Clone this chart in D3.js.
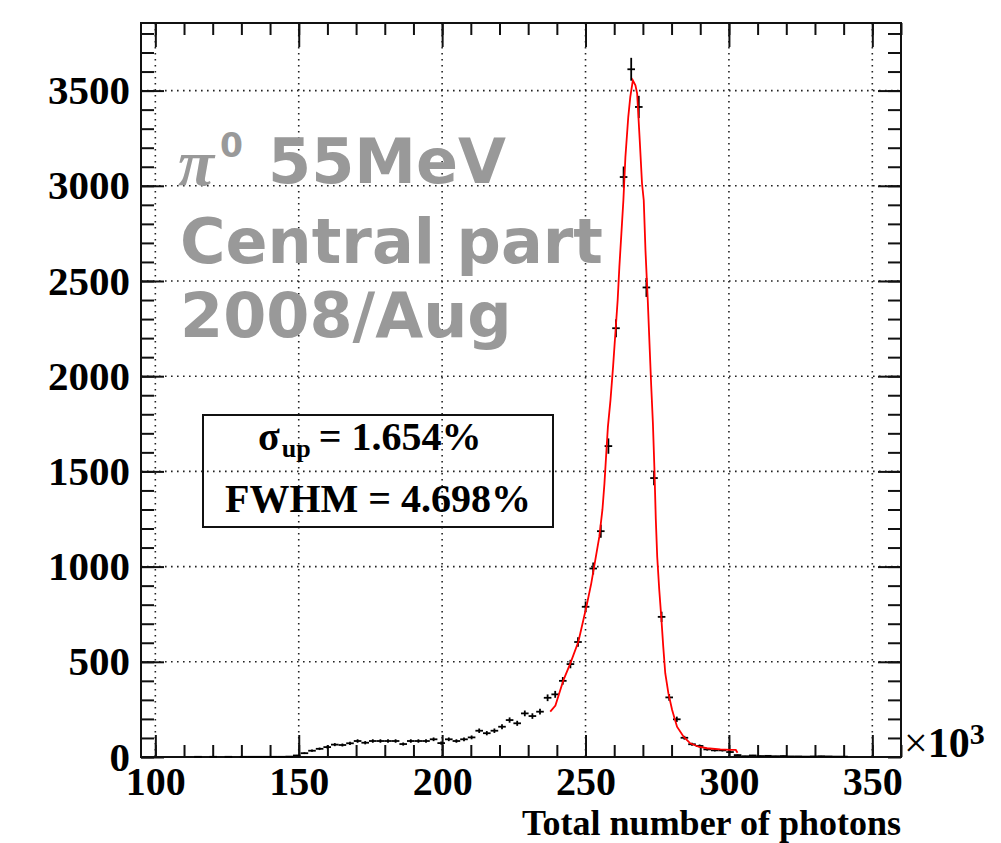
<!DOCTYPE html>
<html>
<head>
<meta charset="utf-8">
<script src="https://cdn.jsdelivr.net/npm/d3@7"></script>
<style>
  html, body { margin: 0; padding: 0; background: #fff; }
  svg { display: block; }
</style>
</head>
<body>
<svg id="chart" width="1001" height="843"></svg>
<script>
// ---- Data (x in units of 10^3 photons) ----
const xMin = 95, xMax = 360, nBins = 100;
const yMax = 3855;
const xMajorTicks = [100, 150, 200, 250, 300, 350];
const yMajorTicks = [500, 1000, 1500, 2000, 2500, 3000, 3500];
const yTickLabels = ["0", "500", "1000", "1500", "2000", "2500", "3000", "3500"];
const counts = [
  0, 0, 0, 0, 0, 0, 0, 1, 0, 1,
  0, 1, 0, 1, 1, 1, 1, 1, 1, 2,
  8, 20, 33, 43, 52, 65, 63, 72, 84, 75,
  84, 84, 84, 84, 68, 84, 84, 84, 93, 73,
  93, 84, 93, 103, 138, 125, 138, 159, 194, 177,
  229, 215, 238, 311, 329, 400, 488, 604, 789, 990,
  1186, 1633, 2252, 3046, 3612, 3414, 2466, 1465, 736, 313,
  198, 101, 67, 58, 40, 35, 35, 26, 10, 4,
  8, 5, 6, 4, 5, 3, 3, 2, 3, 4,
  3, 2, 2, 0, 0, 0, 0, 0, 0, 0
];
// Fit curve
const fitX = [237.7, 239.5, 242.3, 244.7, 247.5, 250.3, 252.0, 253.4, 254.8, 255.9,
  256.6, 257.3, 257.8, 258.7, 259.6, 260.4, 261.2, 261.8, 262.5, 263.2,
  263.9, 264.9, 265.6, 266.5, 267.4, 268.0, 268.9, 269.7, 270.3, 270.9,
  271.7, 272.4, 272.9, 273.5, 274.0, 274.5, 275.0, 275.7, 276.4, 277.1,
  277.8, 278.9, 280.2, 281.9, 284.2, 286.5, 289.4, 292.4, 297.0, 300.5,
  302.4, 303.0];
const fitY = [238, 270, 404, 492, 605, 789, 912, 1034, 1156, 1300,
  1437, 1612, 1734, 1874, 2049, 2224, 2399, 2574, 2749, 2924,
  3150, 3361, 3466, 3554, 3528, 3484, 3239, 3012, 2924, 2661,
  2399, 2136, 1950, 1750, 1524, 1250, 1050, 880, 737, 580,
  440, 334, 247, 159, 107, 72, 54, 46, 40, 37,
  37, 22];
const labelLines = ["Central part", "2008/Aug"];
const boxLines = ["= 1.654%", "FWHM = 4.698%"];

// ---- Layout ----
const L = 141, R = 901, T = 23, B = 757;
const svg = d3.select("#chart");
const x = d3.scaleLinear().domain([xMin, xMax]).range([L, R]);
const y = d3.scaleLinear().domain([0, yMax]).range([B, T]);
const serif = "'Liberation Serif', 'Times New Roman', serif";
const sans = "'DejaVu Sans', sans-serif";

const xMinor = d3.range(100, 361, 10);
const yMinor = d3.range(0, yMax, 100);

// Grid
const grid = svg.append("g").attr("stroke", "#222").attr("stroke-width", 1.6)
  .attr("stroke-dasharray", "1.6,4.4");
grid.selectAll(".gx").data(xMajorTicks).join("line")
  .attr("x1", d => x(d)).attr("x2", d => x(d)).attr("y1", T).attr("y2", B);
grid.selectAll(".gy").data(yMajorTicks).join("line")
  .attr("y1", d => y(d)).attr("y2", d => y(d)).attr("x1", L).attr("x2", R);

// Axes
function styleAxis(size) {
  return g => {
    g.select(".domain").remove();
    g.selectAll(".tick line").attr("stroke", "#111").attr("stroke-width", 2);
    g.selectAll("text").attr("font-family", serif).attr("font-weight", "bold")
      .attr("font-size", size).attr("fill", "#000");
  };
}
svg.append("g").attr("transform", `translate(0,${B})`)
  .call(d3.axisBottom(x).tickValues(xMinor).tickSize(-12).tickFormat(""))
  .call(styleAxis(41));
svg.append("g").attr("transform", `translate(0,${B})`)
  .call(d3.axisBottom(x).tickValues(xMajorTicks).tickSize(-22).tickSizeOuter(0).tickPadding(10).tickFormat(d3.format("d")))
  .call(styleAxis(40));
svg.append("g").attr("transform", `translate(0,${T})`)
  .call(d3.axisTop(x).tickValues(xMinor).tickSize(-12).tickFormat(""))
  .call(styleAxis(41));
svg.append("g").attr("transform", `translate(0,${T})`)
  .call(d3.axisTop(x).tickValues(xMajorTicks).tickSize(-24).tickFormat(""))
  .call(styleAxis(41));
svg.append("g").attr("transform", `translate(${L},0)`)
  .call(d3.axisLeft(y).tickValues(yMinor).tickSize(-13).tickFormat(""))
  .call(styleAxis(41));
svg.append("g").attr("transform", `translate(${L},0)`)
  .call(d3.axisLeft(y).tickValues([0].concat(yMajorTicks)).tickSize(-23).tickPadding(11)
    .tickFormat((d, i) => yTickLabels[i]))
  .call(styleAxis(41));
svg.append("g").attr("transform", `translate(${R},0)`)
  .call(d3.axisRight(y).tickValues(yMinor).tickSize(-13).tickFormat(""))
  .call(styleAxis(41));
svg.append("g").attr("transform", `translate(${R},0)`)
  .call(d3.axisRight(y).tickValues(yMajorTicks).tickSize(-23).tickFormat(""))
  .call(styleAxis(41));

// Frame
svg.append("rect").attr("x", L).attr("y", T).attr("width", R - L).attr("height", B - T)
  .attr("fill", "none").attr("stroke", "#111").attr("stroke-width", 2);

// Big gray label
const gray = "#999999";
const lab = svg.append("g").attr("fill", gray).attr("font-weight", "bold");
lab.append("text").attr("x", 178).attr("y", 185).attr("font-family", serif)
  .attr("font-size", 66).attr("font-style", "italic").text("π");
lab.append("text").attr("x", 220).attr("y", 157).attr("font-family", sans)
  .attr("font-size", 33).text("0");
lab.append("text").attr("x", 268).attr("y", 183).attr("font-family", sans)
  .attr("font-size", 62).text("55MeV");
labelLines.forEach((t, i) => {
  lab.append("text").attr("x", 180).attr("y", 263 + i * 74).attr("font-family", sans)
    .attr("font-size", 62).text(t);
});

// Stats box
svg.append("rect").attr("x", 203).attr("y", 415).attr("width", 350).attr("height", 112)
  .attr("fill", "none").attr("stroke", "#111").attr("stroke-width", 2);
const bt = svg.append("g").attr("font-family", serif).attr("font-weight", "bold").attr("fill", "#000");
const t1 = bt.append("text").attr("x", 258).attr("y", 450).attr("font-size", 40);
t1.append("tspan").text("σ");
t1.append("tspan").attr("font-size", 26).attr("dy", 7).attr("dx", 2).text("up");
t1.append("tspan").attr("dy", -7).attr("dx", 8).text(boxLines[0]);
bt.append("text").attr("x", 378).attr("y", 512).attr("font-size", 40)
  .attr("text-anchor", "middle").text(boxLines[1]);

// Histogram points with error bars
const bw = (xMax - xMin) / nBins;
const pts = counts.map((c, i) => ({ lo: xMin + i * bw, hi: xMin + (i + 1) * bw, c }))
  .filter(d => d.c > 0);
const hg = svg.append("g").attr("stroke", "#000").attr("stroke-width", 1.8);
hg.selectAll(".h").data(pts).join("line")
  .attr("x1", d => x(d.lo)).attr("x2", d => x(d.hi))
  .attr("y1", d => y(d.c)).attr("y2", d => y(d.c));
hg.selectAll(".v").data(pts).join("line")
  .attr("x1", d => x((d.lo + d.hi) / 2)).attr("x2", d => x((d.lo + d.hi) / 2))
  .attr("y1", d => y(Math.max(0, d.c - Math.sqrt(d.c)))).attr("y2", d => y(d.c + Math.sqrt(d.c)));

// Fit curve
const fit = fitX.map((v, i) => [v, fitY[i]]);
svg.append("path").datum(fit)
  .attr("d", d3.line().x(d => x(d[0])).y(d => y(d[1])))
  .attr("fill", "none").attr("stroke", "#ff0000").attr("stroke-width", 1.8);

// x-axis multiplier and title
const mult = svg.append("text").attr("x", 904).attr("y", 757).attr("font-family", serif)
  .attr("font-weight", "bold").attr("font-size", 42).attr("fill", "#000");
mult.append("tspan").attr("font-weight", "normal").text("×");
mult.append("tspan").text("10");
mult.append("tspan").attr("font-size", 30).attr("dy", -13).text("3");
svg.append("text").attr("x", 901).attr("y", 835).attr("text-anchor", "end")
  .attr("font-family", serif).attr("font-weight", "bold").attr("font-size", 36)
  .text("Total number of photons");
</script>
</body>
</html>
